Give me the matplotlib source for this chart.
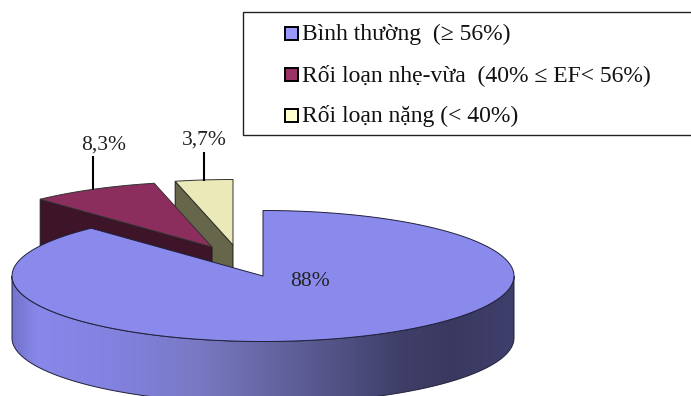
# -*- coding: utf-8 -*-
import matplotlib
matplotlib.use("Agg")
import matplotlib.pyplot as plt
import numpy
from matplotlib.colors import LinearSegmentedColormap
from matplotlib.patches import Polygon, Rectangle

categories = ["Bình thường  (≥ 56%)", "Rối loạn nhẹ-vừa  (40% ≤ EF< 56%)", "Rối loạn nặng (< 40%)"]
percent_values = [88.0, 8.3, 3.7]
percent_labels = ["88%", "8,3%", "3,7%"]

top_colors = ["#8a8aec", "#8b2e5e", "#ece9b8"]
cut_colors = [None, "#3d1428", "#66664a"]
legend_colors = ["#9999ff", "#993366", "#ffffcc"]

# pie geometry in pixels
CENTER_X = 263
CENTER_Y = 276
RADIUS_X = 251
RADIUS_Y = 65.5
DEPTH = 62
EXPLODE = [(0, 0), (-51, -29), (-30, -31)]
EDGE = "#20203a"

plt.rcParams["font.family"] = ["Liberation Serif", "DejaVu Serif"]

figure = plt.figure(figsize=(6.91, 3.96), dpi=100)
axes = figure.add_axes([0, 0, 1, 1])
axes.set_xlim(0, 691)
axes.set_ylim(396, 0)
axes.axis("off")


def rim_points(start_angle, end_angle, offset=(0, 0), drop=0):
    # angles in degrees, clockwise from 12 o'clock
    angle = numpy.radians(numpy.linspace(start_angle, end_angle, 200))
    x_data = CENTER_X + offset[0] + RADIUS_X * numpy.sin(angle)
    y_data = CENTER_Y + offset[1] + drop - RADIUS_Y * numpy.cos(angle)
    return numpy.column_stack([x_data, y_data])


total = sum(percent_values)
edges = numpy.cumsum([0] + percent_values) / total * 360

# small slices first, the big one covers them
for index in [2, 1]:
    start, end = edges[index], edges[index + 1]
    offset = EXPLODE[index]
    apex = numpy.array([CENTER_X + offset[0], CENTER_Y + offset[1]])
    corner = rim_points(start, start, offset)[0]
    cut_face = [apex, corner, corner + [0, DEPTH], apex + [0, DEPTH]]
    axes.add_patch(Polygon(cut_face, facecolor=cut_colors[index], edgecolor="#1a1a1a", linewidth=0.7, zorder=2))
    outline = numpy.vstack([[apex], rim_points(start, end, offset)])
    axes.add_patch(Polygon(outline, facecolor=top_colors[index], edgecolor="#333333", linewidth=0.7, zorder=3))

# outer wall of the big slice with its shading
wall = numpy.vstack([rim_points(90, 270), rim_points(270, 90, drop=DEPTH)])
wall_patch = Polygon(wall, facecolor="none", edgecolor=EDGE, linewidth=0.7, zorder=5)
axes.add_patch(wall_patch)
shade_map = LinearSegmentedColormap.from_list("wall", [
    (0.00, "#7474cc"), (0.05, "#8888ea"), (0.20, "#8282e0"), (0.38, "#7878c2"),
    (0.58, "#5c5c94"), (0.78, "#3e3e68"), (0.88, "#393960"), (1.00, "#3f3f6c")])
shade = axes.imshow(numpy.linspace(0, 1, 512).reshape(1, -1), cmap=shade_map, aspect="auto",
                    extent=(CENTER_X - RADIUS_X, CENTER_X + RADIUS_X, 410, 270), zorder=4)
shade.set_clip_path(wall_patch)
axes.set_xlim(0, 691)
axes.set_ylim(396, 0)

top_face = numpy.vstack([[[CENTER_X, CENTER_Y]], rim_points(edges[0], edges[1])])
axes.add_patch(Polygon(top_face, facecolor=top_colors[0], edgecolor=EDGE, linewidth=0.7, zorder=6))

# data labels and their leader lines
axes.plot([93, 93], [156, 190], color="black", linewidth=1.5, zorder=3, solid_capstyle="butt")
axes.plot([204, 204], [152, 181], color="black", linewidth=1.5, zorder=3, solid_capstyle="butt")
label_positions = [(310, 281), (104, 145), (204, 140)]
for label, position in zip(percent_labels, label_positions):
    axes.text(position[0], position[1], label, fontsize=15.5, color="#222222", ha="center", va="center", zorder=8)

# legend box runs off the right side of the picture
axes.add_patch(Rectangle((243, 12), 460, 123, facecolor="white", edgecolor="#222222", linewidth=1.0, zorder=9))
legend_rows = [33, 74, 115]
for name, color, row in zip(categories, legend_colors, legend_rows):
    axes.add_patch(Rectangle((285, row - 6), 13, 13, facecolor=color, edgecolor="black", linewidth=1.4, zorder=10))
    axes.text(302, row + 1, name, fontsize=17, color="#111111", ha="left", va="center", zorder=10)

figure.savefig("out.png", dpi=100)
